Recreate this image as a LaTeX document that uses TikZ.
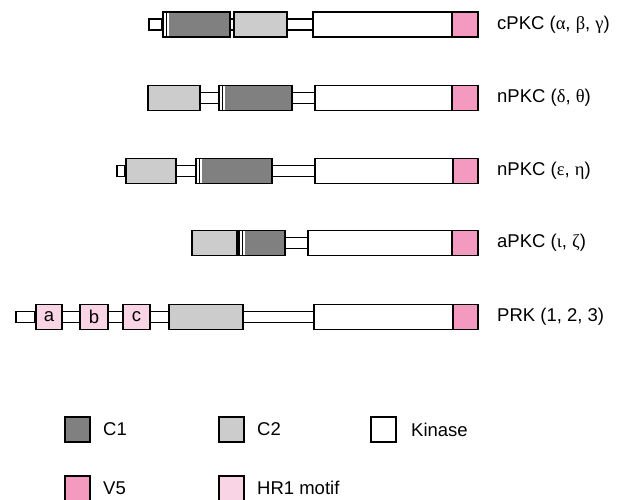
\documentclass[tikz,border=0pt]{standalone}
\usepackage{fontspec}
\setmainfont{Liberation Sans}
\newfontfamily\grk{Liberation Serif}
\definecolor{cOne}{RGB}{128,128,128}
\definecolor{cTwo}{RGB}{204,204,204}
\definecolor{vFive}{RGB}{244,154,193}
\definecolor{hrOne}{RGB}{249,212,229}
\begin{document}
\begin{tikzpicture}[x=1pt,y=-1pt,
  dom/.style={draw=black, line width=1.8pt, inner sep=0pt, minimum height=25pt, anchor=west, font=\fontsize{18.5}{20}\selectfont},
  cone/.style={dom, fill=cOne, path picture={
     \fill[white] (path picture bounding box.north west) rectangle ([xshift=6.5pt]path picture bounding box.south west);
     \draw[line width=1.2pt] ([xshift=3.5pt]path picture bounding box.north west) -- ([xshift=3.5pt]path picture bounding box.south west);}},
  ctwo/.style={dom, fill=cTwo},
  kin/.style={dom, fill=white},
  vfive/.style={dom, fill=vFive},
  hr/.style={dom, fill=hrOne},
  lk/.style={line width=1.8pt},
  lab/.style={anchor=west, inner sep=0pt, font=\fontsize{18.5}{20}\selectfont},
  sq/.style={draw=black, line width=1.8pt, inner sep=0pt, minimum size=25pt},
]
\clip (0,0) rectangle (618,500);
\fill[white] (0,0) rectangle (618,500);
\newcommand{\lnk}[2]{\draw[lk] ([yshift=5.5pt]#1.east) -- ([yshift=5.5pt]#2.west) ([yshift=-5.5pt]#1.east) -- ([yshift=-5.5pt]#2.west);}

% Row 1 cPKC
\coordinate (s1) at (149,24.5);
\node[cone, minimum width=67pt] (r1c1) at (162,24.5) {};
\node[ctwo, minimum width=53pt] (r1c2) at (233,24.5) {};
\node[kin, minimum width=139pt] (r1k) at (312,24.5) {};
\node[vfive, minimum width=26pt] (r1v) at (451,24.5) {};
\draw[lk, fill=white] ([yshift=5.5pt]s1) rectangle ([yshift=-5.5pt]r1c1.west);
\lnk{r1c1}{r1c2}
\lnk{r1c2}{r1k}
\node[lab] (l1) at (497,24.5) {cPKC ({\grk α}, {\grk β}, {\grk γ})};

% Row 2 nPKC delta theta
\node[ctwo, minimum width=52pt] (r2c2) at (147,98) {};
\node[cone, minimum width=73pt] (r2c1) at (218,98) {};
\node[kin, minimum width=137pt] (r2k) at (314,98) {};
\node[vfive, minimum width=26pt] (r2v) at (451,98) {};
\lnk{r2c2}{r2c1}
\lnk{r2c1}{r2k}
\node[lab] (l2) at (497,98) {nPKC ({\grk δ}, {\grk θ})};

% Row 3 nPKC epsilon eta
\coordinate (s3) at (117,171);
\node[ctwo, minimum width=50pt] (r3c2) at (125,171) {};
\node[cone, minimum width=76pt] (r3c1) at (195,171) {};
\node[kin, minimum width=138pt] (r3k) at (314,171) {};
\node[vfive, minimum width=25pt] (r3v) at (452,171) {};
\draw[lk, fill=white] ([yshift=5.5pt]s3) rectangle ([yshift=-5.5pt]r3c2.west);
\lnk{r3c2}{r3c1}
\lnk{r3c1}{r3k}
\node[lab] (l3) at (497,171) {nPKC ({\grk ε}, {\grk η})};

% Row 4 aPKC
\node[ctwo, minimum width=45pt] (r4c2) at (191,243) {};
\node[cone, minimum width=46pt] (r4c1) at (238,243) {};
\node[kin, minimum width=144pt] (r4k) at (307,243) {};
\node[vfive, minimum width=26pt] (r4v) at (451,243) {};
\lnk{r4c2}{r4c1}
\lnk{r4c1}{r4k}
\node[lab] (l4) at (497,243) {aPKC ({\grk ι}, {\grk ζ})};

% Row 5 PRK
\coordinate (s5) at (16,317);
\node[hr, minimum width=26pt] (r5a) at (35,317) {a};
\node[hr, minimum width=28pt] (r5b) at (79,317) {b};
\node[hr, minimum width=27pt] (r5c) at (122,317) {c};
\node[ctwo, minimum width=74pt] (r5c2) at (168,317) {};
\node[kin, minimum width=139pt] (r5k) at (313,317) {};
\node[vfive, minimum width=25pt] (r5v) at (452,317) {};
\draw[lk, fill=white] ([yshift=5.5pt]s5) rectangle ([yshift=-5.5pt]r5a.west);
\lnk{r5a}{r5b}
\lnk{r5b}{r5c}
\lnk{r5c}{r5c2}
\lnk{r5c2}{r5k}
\node[lab] (l5) at (497,317) {PRK (1, 2, 3)};

% Legend
\node[sq, fill=cOne] (kc1) at (77.5,429.5) {};
\node[lab] (tc1) at (103,429.5) {C1};
\node[sq, fill=cTwo] (kc2) at (231.5,429.5) {};
\node[lab] (tc2) at (257,429.5) {C2};
\node[sq, fill=white] (kk) at (383.5,429.5) {};
\node[lab] (tk) at (411,429.5) {Kinase};
\node[sq, fill=vFive] (kv) at (77.5,488.5) {};
\node[lab] (tv) at (103,488) {V5};
\node[sq, fill=hrOne] (kh) at (231.5,488.5) {};
\node[lab] (th) at (257,488) {HR1 motif};
\end{tikzpicture}
\end{document}
